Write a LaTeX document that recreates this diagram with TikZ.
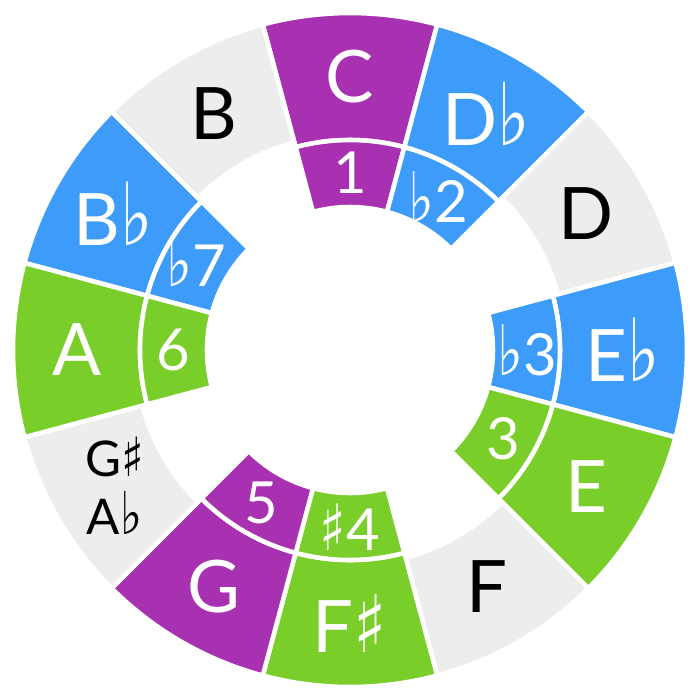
\documentclass[tikz,border=0pt]{standalone}
\usepackage{fontspec}
\setmainfont{Lato}
\newfontfamily\symfont{DejaVu Sans}
\usetikzlibrary{positioning}
\definecolor{ringPurple}{HTML}{A731B0}
\definecolor{ringBlue}{HTML}{3D9BFA}
\definecolor{ringGreen}{HTML}{79CE2A}
\definecolor{ringGrey}{HTML}{EDEDED}
\newcommand{\fl}{\scalebox{0.95}[1.2]{\symfont ♭}}
\newcommand{\sh}{\scalebox{0.95}[1.1]{\symfont ♯}}
\newcommand{\ringpart}[5]{%
  \filldraw[fill=#1, draw=white, line width=1.3pt]
    (#2:#4) arc[start angle=#2, end angle=#3, radius=#4]
    -- (#3:#5) arc[start angle=#3, end angle=#2, radius=#5] -- cycle;}
\tikzset{
  notelabel/.style={font=\fontsize{20.6}{24}\selectfont, text=white, inner sep=0pt},
  deglabel/.style={font=\fontsize{16.5}{19}\selectfont, text=white, inner sep=0pt}
}

\begin{document}
\begin{tikzpicture}
    \useasboundingbox (-3.5,-3.5) rectangle (3.5,3.5);
    \ringpart{ringPurple}{75}{105}{2.10}{3.37}
    \ringpart{ringPurple}{75}{105}{1.43}{2.10}
    \ringpart{ringBlue}{45}{75}{2.10}{3.37}
    \ringpart{ringBlue}{45}{75}{1.43}{2.10}
    \ringpart{ringGrey}{15}{45}{2.15}{3.37}
    \ringpart{ringBlue}{-15}{15}{2.10}{3.37}
    \ringpart{ringBlue}{-15}{15}{1.43}{2.10}
    \ringpart{ringGreen}{-45}{-15}{2.10}{3.37}
    \ringpart{ringGreen}{-45}{-15}{1.43}{2.10}
    \ringpart{ringGrey}{-75}{-45}{2.15}{3.37}
    \ringpart{ringGreen}{-105}{-75}{2.10}{3.37}
    \ringpart{ringGreen}{-105}{-75}{1.43}{2.10}
    \ringpart{ringPurple}{-135}{-105}{2.10}{3.37}
    \ringpart{ringPurple}{-135}{-105}{1.43}{2.10}
    \ringpart{ringGrey}{-165}{-135}{2.15}{3.37}
    \ringpart{ringGreen}{165}{195}{2.10}{3.37}
    \ringpart{ringGreen}{165}{195}{1.43}{2.10}
    \ringpart{ringBlue}{135}{165}{2.10}{3.37}
    \ringpart{ringBlue}{135}{165}{1.43}{2.10}
    \ringpart{ringGrey}{105}{135}{2.15}{3.37}

    \node[notelabel] (c) at (90:2.73) {C};
    \node[notelabel] (dflat) at (60:2.73) {D\fl};
    \node[notelabel, text=black] (d) at (30:2.73) {D};
    \node[notelabel] (eflat) at (0:2.73) {E\fl};
    \node[notelabel] (e) at (-30:2.73) {E};
    \node[notelabel, text=black] (f) at (-60:2.73) {F};
    \node[notelabel] (fsharp) at (-90:2.73) {F\sh};
    \node[notelabel] (g) at (-120:2.73) {G};
    \node[notelabel, text=black, align=center, font=\fontsize{14}{16.5}\selectfont]
      (gsharp) at (-150:2.72) {G\sh\\A\fl};
    \node[notelabel] (a) at (180:2.73) {A};
    \node[notelabel] (bflat) at (150:2.73) {B\fl};
    \node[notelabel, text=black] (b) at (120:2.73) {B};

    \node[deglabel] (one) at (90:1.77) {1};
    \node[deglabel] (flattwo) at (60:1.77) {\fl2};
    \node[deglabel] (flatthree) at (0:1.77) {\fl3};
    \node[deglabel] (three) at (-30:1.77) {3};
    \node[deglabel] (sharpfour) at (-90:1.77) {\sh4};
    \node[deglabel] (five) at (-120:1.77) {5};
    \node[deglabel] (six) at (180:1.77) {6};
    \node[deglabel] (flatseven) at (150:1.77) {\fl7};
  \end{tikzpicture}
\end{document}
